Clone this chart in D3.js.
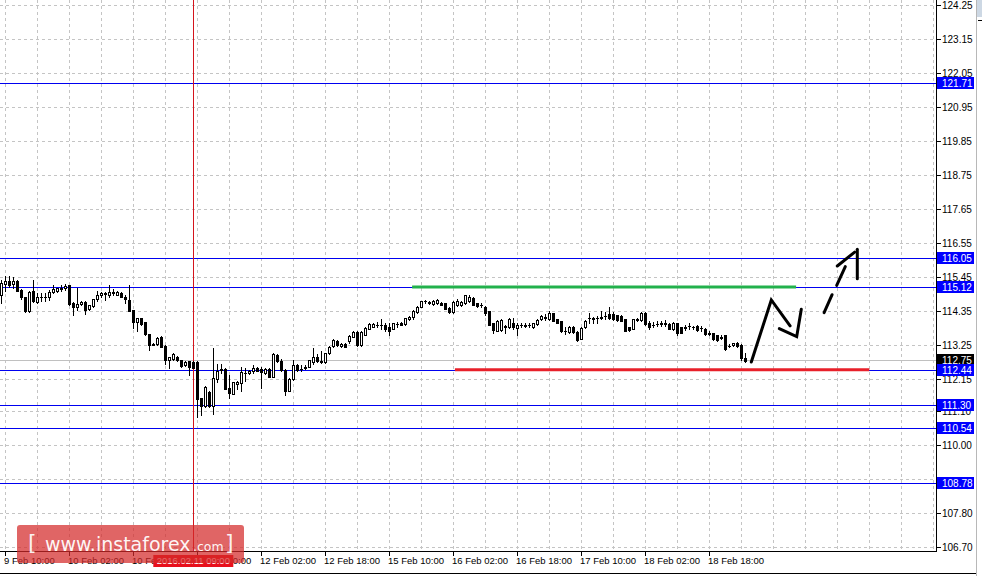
<!DOCTYPE html>
<html><head><meta charset="utf-8">
<script src="https://cdn.jsdelivr.net/npm/d3@7"></script>
<style>html,body{margin:0;padding:0;background:#fff;overflow:hidden}</style>
</head><body><svg id="c" width="982" height="576"></svg>
<script>
// ---- data ----
const opens = [114.87,115.23,115.32,115.21,115.32,115.02,114.78,114.33,115.00,114.63,
114.80,114.80,114.78,114.95,115.00,115.08,115.08,115.17,114.61,114.46,
114.56,114.63,114.41,114.50,114.72,114.85,114.91,114.85,114.97,114.87,
114.93,114.80,114.69,114.37,114.00,114.11,113.98,113.59,113.27,113.27,
113.51,113.20,112.77,112.79,112.86,112.75,112.60,112.71,112.69,112.69,
111.52,111.26,111.71,111.26,112.15,112.43,112.47,111.84,111.67,111.97,
112.02,112.34,112.32,112.41,112.51,112.47,112.32,112.47,112.21,112.92,
112.71,112.43,111.76,112.13,112.58,112.45,112.51,112.54,112.69,112.86,
112.73,112.69,112.97,113.21,113.38,113.21,113.27,113.36,113.51,113.66,
113.23,113.57,113.77,113.83,113.88,113.90,113.88,113.81,113.77,113.92,
113.96,113.92,114.07,114.16,114.31,114.48,114.65,114.62,114.57,114.59,
114.59,114.59,114.44,114.31,114.55,114.53,114.59,114.68,114.76,114.59,
114.55,114.48,114.33,113.94,113.70,113.73,113.84,113.81,113.94,113.79,
113.90,113.88,113.89,113.81,113.92,114.07,114.14,114.07,114.27,114.07,
114.01,113.70,113.66,113.83,113.66,113.45,113.81,114.10,114.09,114.11,
114.12,114.17,114.24,114.24,114.20,114.18,114.07,113.81,113.77,114.06,
114.05,114.29,113.96,113.89,113.91,113.93,113.94,113.92,113.75,113.94,
113.81,113.80,113.84,113.82,113.85,113.78,113.77,113.61,113.62,113.55,
113.48,113.55,113.20,113.23,113.31,113.25,112.82];
const highs = [115.34,115.47,115.47,115.43,115.34,115.04,114.80,115.00,115.36,114.91,
114.93,114.93,115.02,115.17,115.10,115.17,115.23,115.19,114.63,115.08,
114.65,114.67,114.54,114.74,115.00,114.95,114.97,115.17,115.06,115.00,
114.97,114.87,115.17,114.39,114.11,114.13,114.00,113.61,113.29,113.51,
113.53,113.23,112.86,112.99,112.90,112.77,112.71,112.73,112.71,112.71,
111.54,111.90,111.74,113.14,112.64,112.64,112.51,112.26,112.04,112.06,
112.54,112.51,112.43,112.58,112.54,112.54,112.51,112.49,112.97,112.94,
112.79,112.45,112.17,112.77,112.62,112.58,112.60,112.77,113.14,112.94,
113.04,112.99,113.21,113.45,113.40,113.29,113.29,113.57,113.68,113.68,
113.68,113.81,113.94,113.94,113.99,114.09,113.94,113.94,113.96,113.99,
113.99,114.13,114.18,114.37,114.50,114.66,114.70,114.66,114.70,114.72,
114.63,114.61,114.46,114.66,114.74,114.66,114.87,114.87,114.79,114.61,
114.59,114.49,114.35,113.96,114.05,114.07,113.88,114.11,114.11,113.94,
113.96,113.94,113.96,113.96,114.07,114.20,114.24,114.35,114.29,114.09,
114.03,113.83,113.85,113.85,113.68,113.81,114.05,114.27,114.16,114.18,
114.33,114.31,114.46,114.31,114.22,114.20,114.09,113.83,114.09,114.13,
114.31,114.31,114.01,113.98,114.03,114.03,114.05,113.94,113.98,113.96,
113.83,113.90,113.96,113.87,113.88,113.85,113.79,113.68,113.64,113.57,
113.57,113.57,113.27,113.31,113.33,113.27,112.97];
const lows = [114.61,115.00,115.13,115.10,114.99,114.74,114.31,114.31,114.63,114.61,
114.65,114.65,114.69,114.93,114.97,115.00,115.02,114.54,114.22,114.37,
114.52,114.26,114.37,114.46,114.67,114.80,114.69,114.80,114.87,114.85,
114.78,114.61,114.33,113.79,113.68,113.90,113.57,113.07,113.23,113.25,
113.16,112.62,112.51,112.75,112.73,112.54,112.56,112.26,112.49,110.92,
110.96,111.24,111.24,111.02,112.04,112.32,111.80,111.52,111.67,111.82,
111.74,112.08,112.30,112.34,112.39,111.84,112.30,112.19,112.19,112.69,
112.41,111.63,111.74,112.10,112.41,112.41,112.45,112.52,112.64,112.69,
112.67,112.67,112.95,113.16,113.21,113.19,113.17,113.32,113.49,113.21,
113.21,113.55,113.75,113.81,113.81,113.77,113.68,113.55,113.75,113.83,
113.88,113.90,114.05,114.07,114.29,114.46,114.59,114.57,114.55,114.57,
114.53,114.40,114.29,114.29,114.50,114.50,114.57,114.63,114.53,114.48,
114.48,114.20,113.88,113.62,113.68,113.70,113.62,113.79,113.77,113.55,
113.81,113.81,113.83,113.79,113.90,114.05,114.05,114.05,114.01,113.94,
113.66,113.60,113.64,113.64,113.36,113.43,113.79,113.94,113.96,113.94,
114.07,114.09,114.09,114.05,114.03,114.01,113.68,113.70,113.75,114.03,
114.03,113.90,113.77,113.83,113.85,113.87,113.85,113.75,113.72,113.57,
113.62,113.72,113.77,113.75,113.70,113.70,113.57,113.55,113.40,113.38,
113.42,113.08,113.16,113.21,113.19,112.77,112.69];
const closes = [115.26,115.32,115.19,115.30,115.00,114.78,114.33,114.97,114.65,114.78,
114.79,114.78,114.97,115.04,115.08,115.07,115.15,114.56,114.46,114.56,
114.63,114.37,114.52,114.72,114.87,114.91,114.89,114.97,114.91,114.97,
114.80,114.72,114.35,114.00,114.11,113.92,113.59,113.25,113.25,113.48,
113.18,112.77,112.86,112.94,112.75,112.56,112.69,112.54,112.51,111.50,
111.28,111.87,111.26,112.17,112.41,112.47,111.82,111.69,112.04,112.04,
112.36,112.32,112.41,112.51,112.41,112.36,112.47,112.21,112.94,112.71,
112.43,111.76,112.13,112.58,112.43,112.47,112.54,112.75,112.84,112.73,
112.69,112.97,113.19,113.40,113.23,113.27,113.19,113.53,113.66,113.23,
113.66,113.79,113.92,113.92,113.89,113.89,113.75,113.68,113.94,113.93,
113.90,114.11,114.16,114.33,114.48,114.66,114.66,114.61,114.68,114.70,
114.55,114.42,114.31,114.63,114.68,114.63,114.85,114.81,114.55,114.50,
114.54,114.29,113.90,113.73,114.03,114.05,113.83,114.09,113.81,113.90,
113.89,113.87,113.90,113.94,114.05,114.18,114.13,114.27,114.01,113.96,
113.68,113.71,113.83,113.66,113.40,113.79,114.03,114.11,114.10,114.12,
114.14,114.18,114.13,114.09,114.05,114.03,113.70,113.72,114.07,114.07,
114.29,113.92,113.83,113.90,113.92,113.94,113.93,113.77,113.96,113.64,
113.64,113.81,113.85,113.81,113.72,113.79,113.60,113.62,113.42,113.40,
113.49,113.12,113.21,113.29,113.21,112.82,112.71];

const yTickLabels = ["124.25","123.15","122.05","120.95","119.85","118.75","117.65","116.55","115.45","114.35","113.25","112.15","111.10","110.00","108.90","107.80","106.70"];
const yTickHidden = ["108.90"];   // covered by a level tag in the reference
const xTickLabels = ["9 Feb 10:00","10 Feb 02:00","10 Feb 18:00","11 Feb 10:00","12 Feb 02:00","12 Feb 18:00","15 Feb 10:00","16 Feb 02:00","16 Feb 18:00","17 Feb 10:00","18 Feb 02:00","18 Feb 18:00"];
const xTickIndex = [1,17,33,49,65,81,97,113,129,145,161,177];
const levelValues = [121.71,116.05,115.12,112.44,111.30,110.54,108.78];
const bidValue = 112.75;
const markerIndex = 48;
const markerLabel = "2016.02.11 09:00";
const resistance = [115.12, 102.7, 198.7];   // price, from bar, to bar
const support = [112.44, 113.4, 217.0];
const arrowSolid = [[[187.5,112.69],[192.5,114.70],[197.2,113.86]],
                    [[194.5,113.77],[198.85,113.51],[200.0,114.40]]];
const arrowDashed = [[[205.7,114.29],[207.7,114.87]],
                     [[208.85,115.17],[211.0,115.78]],
                     [[209.0,115.80],[213.35,116.25]],
                     [[214.0,116.34],[214.0,115.39]]];

// ---- layout ----
const svg = d3.select("#c");
const W = 982, H = 576, plotR = 936, plotB = 551;
const y = d3.scaleLinear().domain([106.70, 124.25]).range([547, 5]);
const x = d3.scaleLinear().domain([0, 186]).range([1.3, 745.3]);
const ry = v => Math.round(y(v));
const rx = i => Math.round(x(i));
const FONT = "'Liberation Sans', Arial, sans-serif";
const FS = "10px";

svg.append("rect").attr("width", W).attr("height", H).attr("fill", "#fff");
const plot = svg.append("g");

// grid
const gridCol = "#c4c4c4";
const vIdx = d3.range(1, 240, 8).filter(i => x(i) < plotR);
plot.selectAll(".vg").data(vIdx).enter().append("line")
  .attr("x1", d => rx(d) + 0.5).attr("x2", d => rx(d) + 0.5)
  .attr("y1", 0).attr("y2", plotB)
  .attr("stroke", gridCol).attr("stroke-dasharray", "3,3");
plot.selectAll(".hg").data(yTickLabels).enter().append("line")
  .attr("x1", 0).attr("x2", plotR)
  .attr("y1", d => ry(+d) + 0.5).attr("y2", d => ry(+d) + 0.5)
  .attr("stroke", gridCol).attr("stroke-dasharray", "3,3");

// bid line
plot.append("line").attr("x1", 0).attr("x2", plotR)
  .attr("y1", ry(bidValue) + 0.5).attr("y2", ry(bidValue) + 0.5)
  .attr("stroke", "#c0c0c0");

// levels
plot.selectAll(".lv").data(levelValues).enter().append("line")
  .attr("x1", 0).attr("x2", plotR)
  .attr("y1", d => ry(d) + 0.5).attr("y2", d => ry(d) + 0.5)
  .attr("stroke", "#0000f0");

// vertical marker
plot.append("line").attr("x1", rx(markerIndex) + 0.5).attr("x2", rx(markerIndex) + 0.5)
  .attr("y1", 0).attr("y2", plotB).attr("stroke", "#d4141c");

// support / resistance
[[resistance, "#22b14c"], [support, "#e8202a"]].forEach(([r, c]) => {
  plot.append("line").attr("x1", x(r[1])).attr("x2", x(r[2]))
    .attr("y1", y(r[0])).attr("y2", y(r[0]))
    .attr("stroke", c).attr("stroke-width", 3);
});

// candles
const candles = opens.map((o, i) => ({i, o, h: highs[i], l: lows[i], c: closes[i]}));
const cg = plot.append("g");
candles.forEach(d => {
  const cx = rx(d.i);
  cg.append("line").attr("x1", cx + 0.5).attr("x2", cx + 0.5)
    .attr("y1", ry(d.h)).attr("y2", ry(d.l) + 1).attr("stroke", "#000");
  const t = ry(Math.max(d.o, d.c)), b = ry(Math.min(d.o, d.c));
  if (b - t < 1) {
    cg.append("line").attr("x1", cx - 1).attr("x2", cx + 2)
      .attr("y1", t + 0.5).attr("y2", t + 0.5).attr("stroke", "#000");
  } else {
    cg.append("rect").attr("x", cx - 0.5).attr("y", t + 0.5)
      .attr("width", 2).attr("height", b - t)
      .attr("fill", d.c >= d.o ? "#fff" : "#000").attr("stroke", "#000");
  }
});

// arrows
const ln = d3.line().x(p => x(p[0])).y(p => y(p[1]));
arrowSolid.concat(arrowDashed).forEach(seg => {
  plot.append("path").attr("d", ln(seg)).attr("fill", "none")
    .attr("stroke", "#000").attr("stroke-width", 3)
    .attr("stroke-linecap", "round").attr("stroke-linejoin", "miter");
});

// axes frame
svg.append("line").attr("x1", plotR + 0.5).attr("x2", plotR + 0.5).attr("y1", 0).attr("y2", plotB + 1).attr("stroke", "#000");
svg.append("line").attr("x1", 0).attr("x2", plotR + 1).attr("y1", plotB + 0.5).attr("y2", plotB + 0.5).attr("stroke", "#000");
svg.append("line").attr("x1", 0).attr("x2", 976).attr("y1", 573.5).attr("y2", 573.5).attr("stroke", "#000");
svg.append("line").attr("x1", 976.5).attr("x2", 976.5).attr("y1", 0).attr("y2", H).attr("stroke", "#b8b8b8");
svg.append("rect").attr("x", 977).attr("y", 0).attr("width", 5).attr("height", 17).attr("fill", "#cdd8e4");
svg.append("line").attr("x1", 978).attr("x2", 982).attr("y1", 20.5).attr("y2", 20.5).attr("stroke", "#000");

// right axis
const ya = svg.append("g");
yTickLabels.forEach(v => {
  const yy = ry(+v);
  ya.append("line").attr("x1", plotR + 1).attr("x2", plotR + 5).attr("y1", yy + 0.5).attr("y2", yy + 0.5).attr("stroke", "#000");
  if (!yTickHidden.includes(v))
    ya.append("text").attr("x", 942).attr("y", yy + 4).attr("font-family", FONT)
      .attr("font-size", FS).attr("fill", "#000").text(v);
});
// level labels
function tag(v, bg) {
  const yy = ry(v);
  ya.append("rect").attr("x", 937).attr("y", yy - 6).attr("width", 37).attr("height", 12).attr("fill", bg);
  ya.append("text").attr("x", 942).attr("y", yy + 4).attr("font-family", FONT)
    .attr("font-size", FS).attr("fill", "#fff").text(v.toFixed(2));
}
tag(bidValue, "#000");
levelValues.forEach(v => tag(v, "#0000ff"));

// bottom axis
const xa = svg.append("g");
xTickLabels.forEach((lab, k) => {
  const xx = rx(xTickIndex[k]);
  xa.append("line").attr("x1", xx + 0.5).attr("x2", xx + 0.5).attr("y1", plotB + 1).attr("y2", plotB + 5).attr("stroke", "#000");
  xa.append("text").attr("x", xx - 1).attr("y", 564).attr("font-family", FONT)
    .attr("font-size", "9.5px").attr("fill", "#000").text(lab);
});
// marker time label
const mx = x(markerIndex);
xa.append("rect").attr("x", mx - 40).attr("y", 555).attr("width", 80).attr("height", 12).attr("fill", "#e8101c");
xa.append("text").attr("x", mx).attr("y", 564).attr("text-anchor", "middle").attr("font-family", FONT)
  .attr("font-size", "9.5px").attr("fill", "#fff").text(markerLabel);

// watermark
const wm = svg.append("g");
wm.append("rect").attr("x", 17).attr("y", 525).attr("width", 227).attr("height", 38).attr("rx", 3)
  .attr("fill", "#d42a2a").attr("fill-opacity", 0.72);
const WF = "'DejaVu Sans', Verdana, sans-serif";
wm.append("text").attr("x", 28).attr("y", 550).attr("font-family", WF).attr("font-size", "22px").attr("fill", "#fff").attr("fill-opacity", 0.92).text("[");
wm.append("text").attr("x", 45).attr("y", 551).attr("font-family", WF).attr("font-size", "19px").attr("fill", "#fff").attr("fill-opacity", 0.95).text("www.instaforex");
wm.append("text").attr("x", 193).attr("y", 551).attr("font-family", WF).attr("font-size", "12.5px").attr("fill", "#fff").attr("fill-opacity", 0.95).text(".com");
wm.append("text").attr("x", 225).attr("y", 550).attr("font-family", WF).attr("font-size", "22px").attr("fill", "#fff").attr("fill-opacity", 0.92).text("]");
</script></body></html>
